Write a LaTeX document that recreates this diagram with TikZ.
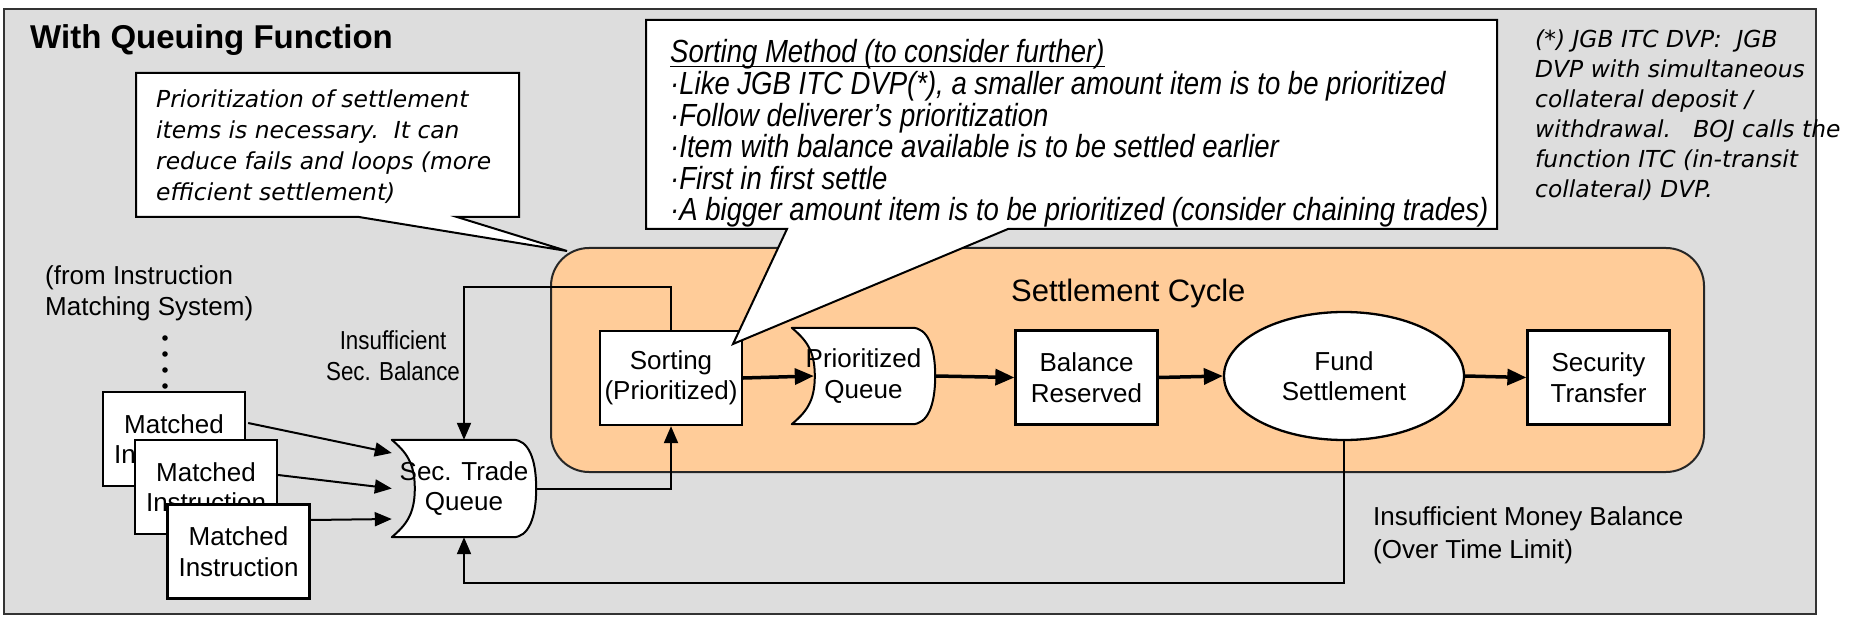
\documentclass[tikz,border=0pt]{standalone}
\usepackage{fontspec}
\setmainfont{Liberation Sans}
\newfontfamily\notefont{DejaVu Sans}
\newfontfamily\narrowfont{Liberation Sans}[FakeStretch=0.86]
\usetikzlibrary{arrows.meta,calc,shapes.geometric}
\definecolor{panelgray}{RGB}{221,221,221}
\definecolor{cycleorange}{RGB}{255,204,153}
\pgfdeclarelayer{back}
\pgfdeclarelayer{mid}
\pgfsetlayers{back,mid,main}

% underline with a visible rule
\newcommand\ulline[1]{\setbox0\hbox{#1}\rlap{\rule[-4.5pt]{\wd0}{1.5pt}}\box0}

% queue outline: concave left side, convex right side
\newcommand\queueoutline[1]{%
  \draw[qline] (#1.north west) -- ($(#1.north east)+(-23,0)$)
    .. controls ($(#1.north east)+(-8,0)$) and ($(#1.east)+(0,30)$) .. (#1.east)
    .. controls ($(#1.east)+(0,-30)$) and ($(#1.south east)+(-8,0)$) .. ($(#1.south east)+(-23,0)$)
    -- (#1.south west)
    .. controls ($(#1.south west)+(14,12)$) and ($(#1.west)+(23,-26)$) .. ($(#1.west)+(23,0)$)
    .. controls ($(#1.west)+(23,26)$) and ($(#1.north west)+(14,-12)$) .. cycle;}

\begin{document}
\begin{tikzpicture}[x=1pt,y=1pt,
  nodefont/.style={font=\fontsize{26}{30.5}\selectfont},
  box/.style={nodefont, draw=black, line width=2.3pt, fill=white, minimum width=142pt,
    minimum height=94pt, inner sep=0pt, align=center},
  qnode/.style={nodefont, minimum width=144pt, minimum height=97pt, inner sep=0pt, align=center},
  qline/.style={draw=black, line width=2pt, fill=white, line join=round},
  oval/.style={nodefont, ellipse, draw=black, line width=2.3pt, fill=white,
    minimum width=240pt, minimum height=128pt, inner sep=0pt, align=center},
  label/.style={nodefont, inner sep=0pt},
  thinarrow/.style={line width=2pt, -{Triangle[length=17pt,width=14pt]}},
  flowarrow/.style={line width=3.5pt, -{Triangle[length=19pt,width=16pt]}},
  callout/.style={draw=black, line width=2pt, fill=white, line join=miter},
  softnote/.style={font=\notefont\itshape\fontsize{23.4}{31}\selectfont, inner sep=0pt, align=left},
  listnote/.style={font=\narrowfont\itshape\fontsize{32}{31.6}\selectfont, inner sep=0pt, align=left}
]
\useasboundingbox (0,0) rectangle (1859,-620);

\begin{pgfonlayer}{back}
  \fill[white] (0,0) rectangle (1859,-620);
  % outer panel
  \draw[line width=2pt, draw=black!80, fill=panelgray] (4,-9) rectangle (1816,-614);
  % settlement cycle area
  \draw[line width=2pt, draw=black!85, fill=cycleorange, rounded corners=38pt]
    (551,-248) rectangle (1704,-472);
\end{pgfonlayer}

% title and free labels (multi-line labels are anchored at their last baseline)
\node[anchor=base west, inner sep=0pt, font=\fontsize{33}{40}\selectfont\bfseries] (title)
  at (30,-49) {With Queuing Function};
\node[anchor=base west, inner sep=0pt, font=\fontsize{31}{36}\selectfont] (cyclelabel)
  at (1011,-301) {Settlement Cycle};
\node[label, anchor=base west, align=left] (source) at (45,-315)
  {(from Instruction\\Matching System)};
\node[label, anchor=base, align=center, font=\narrowfont\fontsize{26}{31}\selectfont] (secshort)
  at (393,-380) {Insufficient\\Sec. Balance};
\node[label, anchor=base west, align=left, font=\fontsize{26}{33}\selectfont] (moneyshort)
  at (1373,-558) {Insufficient Money Balance\\(Over Time Limit)};

% continuation dots above the instruction stack
\foreach \yy in {338,354,370,386} \fill (165,-\yy) circle (2.8pt);

% matched instructions
\node[box] (m1) at (174,-439) {Matched\\Instruction};
\node[box] (m2) at (206,-487) {Matched\\Instruction};
\node[box] (m3) at (238.5,-551.5) {Matched\\Instruction};

% queues
\node[qnode] (q) at (464,-488.5) {};
\node[qnode, minimum width=143pt, minimum height=96pt] (pq) at (863.5,-376) {};
\begin{pgfonlayer}{mid}
  \queueoutline{q}
  \queueoutline{pq}
\end{pgfonlayer}
\node[label, align=center] (qtext) at (q) {Sec. Trade\\Queue};
\node[label, align=center] (pqtext) at (pq) {Prioritized\\Queue};

% settlement cycle steps
\node[box] (sort) at (671,-378) {Sorting\\(Prioritized)};
\node[box] (bal) at (1086.5,-377.5) {Balance\\Reserved};
\node[oval] (fund) at (1344,-376) {Fund\\Settlement};
\node[box] (sec) at (1598.5,-377.5) {Security\\Transfer};

% loop rails
\coordinate (railtop) at (0,-287);
\coordinate (railbottom) at (0,-583);

% inputs into the trade queue
\draw[thinarrow] ($(m1.east)+(2,16)$) -- ($(q.west)+(0,35.5)$);
\draw[thinarrow] ($(m2.east)+(0,12)$) -- ($(q.west)+(0,0)$);
\draw[thinarrow] ($(m3.east)+(0,31.5)$) -- ($(q.west)+(0,-30.5)$);

% queue to sorting and the two return loops
\draw[thinarrow] (q.east) -| (sort.south);
\draw[thinarrow] (sort.north) -- (sort.north |- railtop) -| (q.north);
\draw[thinarrow] (fund.south) -- (fund.south |- railbottom) -| (q.south);

% main flow
\draw[flowarrow] (sort.east) -- ($(pq.west)+(22,0)$);
\draw[flowarrow] (pq.east) -- (bal.west);
\draw[flowarrow] (bal.east) -- (fund.west);
\draw[flowarrow] (fund.east) -- (sec.west);

% callout: why prioritize
\draw[callout] (136,-73) -- (519,-73) -- (519,-217) -- (457,-217) -- (567,-251)
  -- (359,-217) -- (136,-217) -- cycle;
\node[softnote, anchor=base west] (whynote) at (156,-201)
  {Prioritization of settlement\\items is necessary.\ \ It can\\reduce fails and loops (more\\efficient settlement)};

% callout: sorting methods
\draw[callout] (646,-20) -- (1497,-20) -- (1497,-229) -- (1008,-229) -- (733,-344)
  -- (787,-229) -- (646,-229) -- cycle;
\node[listnote, anchor=base west] (methods) at (670,-221)
  {\ulline{Sorting Method (to consider further)}\\
   ·Like JGB ITC DVP(*), a smaller amount item is to be prioritized\\
   ·Follow deliverer’s prioritization\\
   ·Item with balance available is to be settled earlier\\
   ·First in first settle\\
   ·A bigger amount item is to be prioritized (consider chaining trades)};

% footnote on JGB ITC DVP
\node[softnote, anchor=base west, font=\notefont\itshape\fontsize{23.4}{30}\selectfont] (footnote)
  at (1535,-198)
  {(*) JGB ITC DVP:\ \ JGB\\DVP with simultaneous\\collateral deposit /\\withdrawal.\ \ \ BOJ calls the\\function ITC (in-transit\\collateral) DVP.};
\end{tikzpicture}
\end{document}
